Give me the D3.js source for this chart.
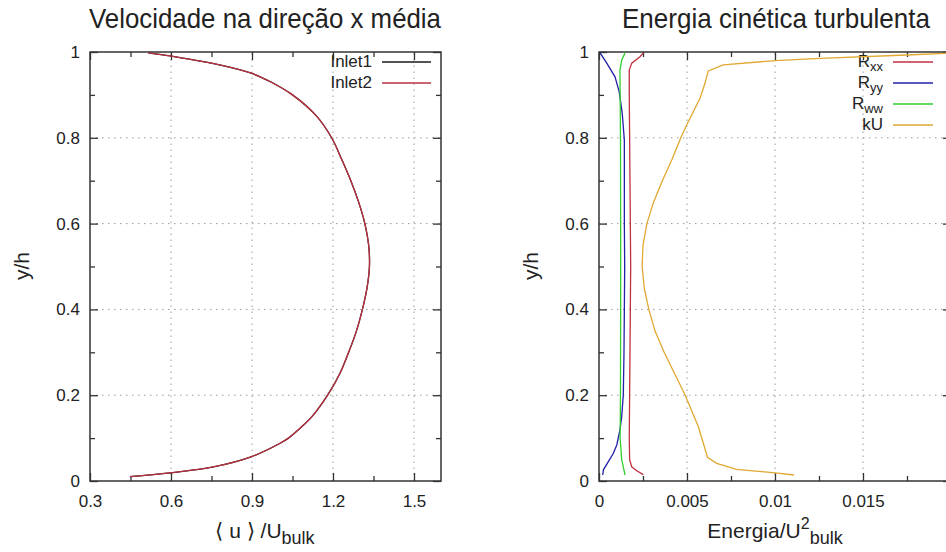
<!DOCTYPE html>
<html>
<head>
<meta charset="utf-8">
<script src="https://cdn.jsdelivr.net/npm/d3@7"></script>
<style>
  body { margin: 0; background: #fff; }
  text { font-family: "Liberation Sans", Arial, sans-serif; fill: #222; }
</style>
</head>
<body>
<svg id="chart" width="946" height="552"></svg>
<script>
// left panel: mean streamwise velocity
const yInlet = [0.010, 0.019, 0.033, 0.057, 0.088, 0.1, 0.127, 0.15, 0.2, 0.25, 0.3, 0.35, 0.4, 0.45, 0.5,
                0.55, 0.6, 0.65, 0.7, 0.75, 0.8, 0.85, 0.9, 0.93, 0.95, 0.97, 0.985, 0.991, 0.998];
const uInlet1 = [0.448, 0.596, 0.757, 0.899, 1.004, 1.035, 1.085, 1.122, 1.18, 1.225, 1.258, 1.287, 1.309, 1.326, 1.335,
                 1.332, 1.318, 1.295, 1.266, 1.232, 1.195, 1.14, 1.05, 0.97, 0.90, 0.78, 0.65, 0.596, 0.516];
const uInlet2 = [0.448, 0.596, 0.757, 0.899, 1.004, 1.035, 1.085, 1.122, 1.18, 1.225, 1.258, 1.287, 1.309, 1.326, 1.335,
                 1.332, 1.318, 1.295, 1.266, 1.232, 1.195, 1.14, 1.05, 0.97, 0.90, 0.78, 0.65, 0.596, 0.516];

// right panel: turbulent kinetic energy
const yRxx = [0.015, 0.024, 0.033, 0.05, 0.1, 0.2, 0.3, 0.4, 0.5, 0.6, 0.7, 0.8, 0.9, 0.958, 0.974, 0.989, 0.998];
const Rxx  = [0.00252, 0.00214, 0.00186, 0.00174, 0.00172, 0.00174, 0.00176, 0.00178, 0.0018, 0.00178, 0.00176,
              0.00174, 0.00172, 0.00172, 0.00186, 0.00233, 0.00252];
const yRyy = [0.014, 0.026, 0.045, 0.064, 0.084, 0.119, 0.15, 0.2, 0.3, 0.4, 0.5, 0.6, 0.7, 0.795, 0.857, 0.907,
              0.942, 0.974, 0.998];
const Ryy  = [0.00021, 0.00025, 0.00053, 0.00081, 0.00101, 0.00119, 0.00129, 0.00138, 0.00142, 0.00144, 0.00146,
              0.00144, 0.00144, 0.00144, 0.00132, 0.00115, 0.00091, 0.00044, 0.00006];
const yRww = [0.014, 0.05, 0.1, 0.2, 0.4, 0.6, 0.8, 0.958, 0.981, 0.998];
const Rww  = [0.00148, 0.00129, 0.0012, 0.00122, 0.00123, 0.00123, 0.00122, 0.00119, 0.00129, 0.00148];
const ykU  = [0.014, 0.019, 0.027, 0.041, 0.055, 0.088, 0.127, 0.2, 0.25, 0.3, 0.35, 0.4, 0.45, 0.5, 0.55,
              0.6, 0.65, 0.7, 0.75, 0.8, 0.830, 0.892, 0.927, 0.956, 0.970, 0.980, 0.985, 0.993, 0.997, 0.998];
const kU   = [0.01108, 0.0100, 0.00782, 0.00669, 0.00616, 0.00593, 0.00564, 0.0049, 0.0043, 0.0037, 0.00318,
              0.00283, 0.00257, 0.00245, 0.0025, 0.00272, 0.0031, 0.0036, 0.00415, 0.00465, 0.00498, 0.00574,
              0.00602, 0.00621, 0.00706, 0.0100, 0.01256, 0.01748, 0.01966, 0.0203];

// ticks
const yTicks = [0, 0.2, 0.4, 0.6, 0.8, 1];
const yMinor = [0.1, 0.3, 0.5, 0.7, 0.9];
const uTicks = [0.3, 0.6, 0.9, 1.2, 1.5];
const uMinor = [0.45, 0.75, 1.05, 1.35];
const eTicks = [0, 0.005, 0.01, 0.015, 0.02];
const eMinor = [0.0025, 0.0075, 0.0125, 0.0175];

const svg = d3.select("#chart");

function panel(opts) {
    const x = d3.scaleLinear().domain(opts.xDomain).range([opts.left, opts.right]);
    const y = d3.scaleLinear().domain([0, 1]).range([481, 52]);
    const g = svg.append("g");

    const clipId = "clip" + opts.id;
    svg.append("clipPath").attr("id", clipId)
       .append("rect")
       .attr("x", opts.left).attr("y", 52)
       .attr("width", opts.right - opts.left).attr("height", 481 - 52);

    // dotted grid
    g.selectAll(".vgrid")
     .data(opts.xTicks.filter(d => d > opts.xDomain[0] && d < opts.xDomain[1]))
     .enter().append("line")
     .attr("x1", d => x(d)).attr("x2", d => x(d))
     .attr("y1", y(0)).attr("y2", y(1))
     .attr("stroke", "#9a9a9a").attr("stroke-width", 1)
     .attr("stroke-dasharray", "1.5,4.5");
    g.selectAll(".hgrid")
     .data(yTicks.filter(d => d > 0 && d < 1))
     .enter().append("line")
     .attr("x1", opts.left).attr("x2", opts.right)
     .attr("y1", d => y(d)).attr("y2", d => y(d))
     .attr("stroke", "#9a9a9a").attr("stroke-width", 1)
     .attr("stroke-dasharray", "1.5,4.5");

    // axes (ticks point inward, mirrored on top/right)
    const fmt = d => (d >= opts.xLabelMax ? "" : d3.format("~g")(d));
    const axes = [
        [d3.axisBottom(x).tickValues(opts.xTicks).tickFormat(fmt).tickSizeInner(-8).tickSizeOuter(0).tickPadding(14), `translate(0,481)`],
        [d3.axisBottom(x).tickValues(opts.xMinor).tickFormat("").tickSizeInner(-5).tickSizeOuter(0), `translate(0,481)`],
        [d3.axisTop(x).tickValues(opts.xTicks).tickFormat("").tickSizeInner(-8).tickSizeOuter(0), `translate(0,52)`],
        [d3.axisTop(x).tickValues(opts.xMinor).tickFormat("").tickSizeInner(-5).tickSizeOuter(0), `translate(0,52)`],
        [d3.axisLeft(y).tickValues(yTicks).tickFormat(d3.format("~g")).tickSizeInner(-8).tickSizeOuter(0).tickPadding(10), `translate(${opts.left},0)`],
        [d3.axisLeft(y).tickValues(yMinor).tickFormat("").tickSizeInner(-5).tickSizeOuter(0), `translate(${opts.left},0)`],
        [d3.axisRight(y).tickValues(yTicks).tickFormat("").tickSizeInner(-8).tickSizeOuter(0), `translate(${opts.right},0)`],
        [d3.axisRight(y).tickValues(yMinor).tickFormat("").tickSizeInner(-5).tickSizeOuter(0), `translate(${opts.right},0)`]
    ];
    axes.forEach(([ax, tr]) => {
        const a = g.append("g").attr("transform", tr).call(ax);
        a.select(".domain").remove();
        a.selectAll("line").attr("stroke", "#333").attr("stroke-width", 1.3);
        a.selectAll("text").attr("font-size", 17).attr("fill", "#333")
         .attr("font-family", '"Liberation Sans", Arial, sans-serif');
    });

    g.append("rect")
     .attr("x", opts.left).attr("y", 52)
     .attr("width", opts.right - opts.left).attr("height", 481 - 52)
     .attr("fill", "none").attr("stroke", "#333").attr("stroke-width", 1.5);

    // series
    opts.series.forEach((s, i) => {
        const pts = s.ys.map((v, k) => ({ y: v, x: s.xs[k] }));
        const line = d3.line().x(d => x(d.x)).y(d => y(d.y))
                       .curve(opts.smooth ? d3.curveCatmullRom.alpha(0.5) : d3.curveLinear);
        g.append("path").datum(pts)
         .attr("d", line)
         .attr("clip-path", `url(#${clipId})`)
         .attr("fill", "none")
         .attr("stroke", s.color)
         .attr("stroke-width", 1.3);

        // legend
        const ly = 62 + i * 21;
        g.append("line")
         .attr("x1", opts.legendX).attr("x2", opts.legendX + opts.legendW)
         .attr("y1", ly).attr("y2", ly)
         .attr("stroke", s.color).attr("stroke-width", 1.3);
        const t = g.append("text")
         .attr("x", opts.legendX - 10).attr("y", ly + 5)
         .attr("text-anchor", "end").attr("font-size", 17);
        t.append("tspan").text(s.name);
        if (s.sub) {
            t.append("tspan").attr("font-size", 13).attr("dy", 4).text(s.sub);
        }
    });

    // titles and labels
    g.append("text")
     .attr("x", opts.titleX).attr("y", 28)
     .attr("text-anchor", "middle").attr("font-size", 28)
     .attr("textLength", opts.titleW).attr("lengthAdjust", "spacingAndGlyphs")
     .text(opts.title);

    g.append("text")
     .attr("transform", `translate(${opts.left - 68},266) rotate(-90)`)
     .attr("text-anchor", "middle").attr("dy", "0.35em")
     .attr("font-size", 21)
     .text("y/h");

    const xl = g.append("text")
     .attr("x", opts.xLabelX).attr("y", 538)
     .attr("text-anchor", "middle").attr("font-size", 21);
    opts.xLabel(xl);

    return g;
}

panel({
    id: "L", left: 90, right: 441, xDomain: [0.3, 1.6],
    xTicks: uTicks, xMinor: uMinor, xLabelMax: 99, smooth: true,
    title: "Velocidade na direção x média", titleX: 265, titleW: 352,
    legendX: 382, legendW: 49,
    xLabelX: 265,
    xLabel: t => {
        t.append("tspan").text("⟨ u ⟩ /U");
        t.append("tspan").attr("font-size", 18).attr("dy", 6).text("bulk");
    },
    series: [
        { name: "Inlet1", xs: uInlet1, ys: yInlet, color: "#1a1a1a" },
        { name: "Inlet2", xs: uInlet2, ys: yInlet, color: "#b83040" }
    ]
});

panel({
    id: "R", left: 599, right: 951, xDomain: [0, 0.02],
    xTicks: eTicks, xMinor: eMinor, xLabelMax: 0.02, smooth: false,
    title: "Energia cinética turbulenta", titleX: 776, titleW: 308,
    legendX: 893, legendW: 40,
    xLabelX: 775,
    xLabel: t => {
        t.append("tspan").text("Energia/U");
        t.append("tspan").attr("font-size", 16).attr("dy", -9).text("2");
        t.append("tspan").attr("font-size", 18).attr("dy", 15).text("bulk");
    },
    series: [
        { name: "R", sub: "xx", xs: Rxx, ys: yRxx, color: "#c03040" },
        { name: "R", sub: "yy", xs: Ryy, ys: yRyy, color: "#2020a8" },
        { name: "R", sub: "ww", xs: Rww, ys: yRww, color: "#30d030" },
        { name: "kU", xs: kU, ys: ykU, color: "#e0a830" }
    ]
});
</script>
</body>
</html>
